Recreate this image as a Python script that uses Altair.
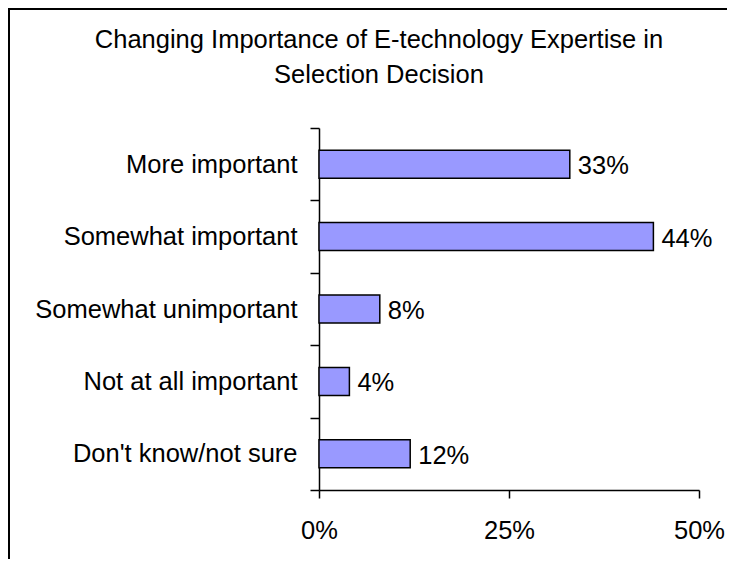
import altair as alt
import pandas as pd

categories = ["More important", "Somewhat important", "Somewhat unimportant",
              "Not at all important", "Don't know/not sure"]
shares = [0.33, 0.44, 0.08, 0.04, 0.12]
x_ticks = [0, 0.25, 0.5]
title_lines = ["Changing Importance of E-technology Expertise in", "Selection Decision"]

df = pd.DataFrame({"category": categories, "share": shares})
df["label"] = [f"{round(v * 100)}%" for v in shares]

FONT = "Liberation Sans"
FS = 25.5

y_axis = alt.Axis(tickBand="extent", tickSize=9, labelPadding=13, labelFontSize=FS,
                  labelFont=FONT, labelColor="black", domainColor="black",
                  tickColor="black", domainWidth=1.5, tickWidth=1.5, labelLimit=500)
x_axis = alt.Axis(values=x_ticks, format=".0%", grid=False, tickSize=8, labelPadding=20,
                  labelFlush=False, labelFontSize=FS, labelFont=FONT, labelColor="black",
                  domainColor="black", tickColor="black", domainWidth=1.5, tickWidth=1.5)

y_enc = alt.Y("category:N", sort=categories, title=None,
              scale=alt.Scale(paddingInner=0, paddingOuter=0), axis=y_axis)
x_enc = alt.X("share:Q", title=None, scale=alt.Scale(domain=[0, 0.5]), axis=x_axis)

bars = alt.Chart(df).mark_bar(color="#9999FF", stroke="black", strokeWidth=1.5, size=28).encode(
    y=y_enc, x=x_enc)

labels = alt.Chart(df).mark_text(align="left", baseline="middle", dx=8, dy=2, fontSize=FS,
                                 font=FONT, color="black").encode(
    y=alt.Y("category:N", sort=categories), x=alt.X("share:Q"), text="label:N")

single = alt.Data(values=[{}])

title = alt.Chart(single).mark_text(align="center", baseline="alphabetic", fontSize=FS,
                                    font=FONT, color="black", lineHeight=35).encode(
    x=alt.value(60), y=alt.value(-80), text=alt.value(title_lines))

frame_left = alt.Chart(single).mark_rule(color="black", strokeWidth=2).encode(
    x=alt.value(-310), y=alt.value(-119), y2=alt.value(431))
frame_top = alt.Chart(single).mark_rule(color="black", strokeWidth=2).encode(
    x=alt.value(-311), x2=alt.value(408), y=alt.value(-119))

chart = alt.layer(bars, labels, title, frame_left, frame_top).properties(
    width=380, height=362,
    padding={"left": 311, "top": 120, "right": 28, "bottom": 69},
    autosize=alt.AutoSizeParams(type="none"),
).configure_view(stroke=None)

chart.save("out.html", embed_options={"renderer": "svg", "actions": False})
